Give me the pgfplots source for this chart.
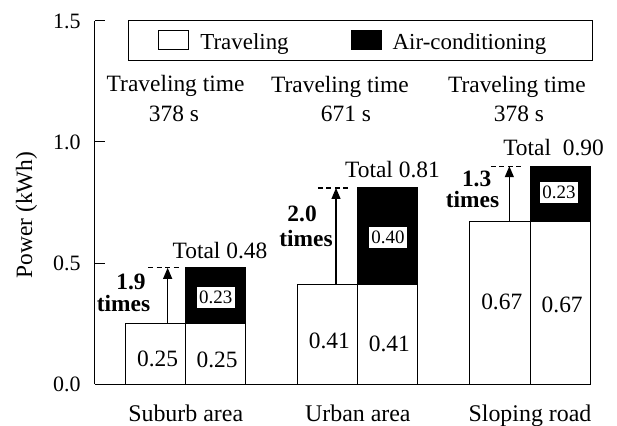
\documentclass[border=0pt]{standalone}
\usepackage{fontspec}
\setmainfont{Liberation Serif}
\usepackage{pgfplots}
\pgfplotsset{compat=1.18}
\usetikzlibrary{arrows.meta}
\newcommand{\fA}{\fontsize{23.5}{27}\selectfont}
\newcommand{\fL}{\fontsize{23}{27}\selectfont}
\newcommand{\fB}{\fontsize{23.5}{27}\selectfont\bfseries}
\newcommand{\fC}{\fontsize{19}{22}\selectfont}
\begin{document}
\begin{tikzpicture}
\useasboundingbox (-95bp,-42bp) rectangle (522bp,384bp);
\begin{axis}[
  at={(0,0)}, anchor=south west,
  scale only axis, width=495bp, height=363bp,
  xmin=-0.527, xmax=2.3485, ymin=0, ymax=1.5,
  clip=false,
  axis x line=bottom, axis y line=left,
  axis line style={-, line width=1bp},
  ytick={0,0.5,1,1.5},
  tick align=inside, major tick length=10bp,
  tick style={black, line width=1bp},
  xtick style={draw=none},
  yticklabel style={xshift=-11bp, font=\fontsize{22}{26}\selectfont, /pgf/number format/fixed, /pgf/number format/fixed zerofill, /pgf/number format/precision=1, /pgf/number format/assume math mode=true},
  xtick={0,1,2}, xticklabels={Suburb area, Urban area, Sloping road},
  xticklabel style={yshift=-7bp, font=\fontsize{24}{28}\selectfont},
  ylabel={Power (kWh)},
  every axis y label/.style={at={(rel axis cs:0,0.4656)}, xshift=-68.5bp, rotate=90, anchor=center, font=\fA},
  ybar, bar width=0.3488, bar shift=0,
  mylegend/.style={legend image code/.code={\draw[##1] (0bp,-7.75bp) rectangle (30bp,11.25bp);}},
  legend columns=2,
  legend cell align=left,
  legend style={
    at={(rel axis cs:0.0667,1.0028)}, anchor=north west,
    draw=black, line width=0.8bp,
    inner xsep=30bp, inner ysep=10bp,
    font=\fL,
    nodes={inner sep=0bp},
    /tikz/every odd column/.append style={column sep=11bp},
    /tikz/every even column/.append style={column sep=62bp},
  },
]
% Air-conditioning on top of traveling (right bar of each pair)
\addplot[fill=black, draw=black, line width=1bp, forget plot] table[x=x, y expr=\thisrow{trav}+\thisrow{ac}] {
x      trav ac
0.1744 0.25 0.23
1.1744 0.41 0.40
2.1744 0.67 0.23
};
% Traveling
\addplot[fill=white, draw=black, line width=1bp, forget plot] coordinates {
  (-0.1744,0.25) (0.1744,0.25) (0.8256,0.41) (1.1744,0.41) (1.8256,0.67) (2.1744,0.67)};
\addlegendimage{fill=white, draw=black, line width=1bp, mylegend}
\addlegendentry{Traveling}
\addlegendimage{fill=black, draw=black, line width=1bp, mylegend}
\addlegendentry{\makebox[170bp][l]{Air-conditioning}}

% traveling time
\node[anchor=base, font=\fA] at (axis cs:-0.059,1.208) {Traveling time};
\node[anchor=base, font=\fA] at (axis cs:-0.068,1.084) {378 s};
\node[anchor=base, font=\fA] at (axis cs:0.896,1.205) {Traveling time};
\node[anchor=base, font=\fA] at (axis cs:0.931,1.084) {671 s};
\node[anchor=base, font=\fA] at (axis cs:1.924,1.206) {Traveling time};
\node[anchor=base, font=\fA] at (axis cs:1.936,1.084) {378 s};
% totals
\node[anchor=base, font=\fA] at (axis cs:0.199,0.517) {Total 0.48};
\node[anchor=base, font=\fA] at (axis cs:1.201,0.854) {Total 0.81};
\node[anchor=base, font=\fA] at (axis cs:2.137,0.946) {Total\hspace{6bp} 0.90};
% ratios
\node[anchor=base, font=\fB] at (axis cs:-0.318,0.391) {1.9};
\node[anchor=base, font=\fB] at (axis cs:-0.361,0.299) {times};
\node[anchor=base, font=\fB] at (axis cs:0.676,0.671) {2.0};
\node[anchor=base, font=\fB] at (axis cs:0.699,0.570) {times};
\node[anchor=base, font=\fB] at (axis cs:1.690,0.818) {1.3};
\node[anchor=base, font=\fB] at (axis cs:1.666,0.730) {times};
% traveling values
\node[anchor=base, font=\fA] at (axis cs:-0.163,0.0715) {0.25};
\node[anchor=base, font=\fA] at (axis cs:0.182,0.070) {0.25};
\node[anchor=base, font=\fA] at (axis cs:0.834,0.147) {0.41};
\node[anchor=base, font=\fA] at (axis cs:1.183,0.133) {0.41};
\node[anchor=base, font=\fA] at (axis cs:1.836,0.306) {0.67};
\node[anchor=base, font=\fA] at (axis cs:2.187,0.296) {0.67};
% AC values
\node[fill=white, inner xsep=2.5bp, inner ysep=4bp, font=\fC] at (axis cs:0.174,0.357) {0.23};
\node[fill=white, inner xsep=2.5bp, inner ysep=4bp, font=\fC] at (axis cs:1.175,0.605) {0.40};
\node[fill=white, inner xsep=2.5bp, inner ysep=4bp, font=\fC] at (axis cs:2.168,0.791) {0.23};
% arrows
\draw[line width=1.2bp, -{Triangle[width=9bp,length=11bp]}] (axis cs:-0.105,0.25) -- (axis cs:-0.105,0.48);
\draw[line width=1.2bp, dash pattern=on 5bp off 3.5bp] (axis cs:-0.219,0.48) -- (axis cs:-0.033,0.48);
\draw[line width=1.2bp, -{Triangle[width=9bp,length=11bp]}] (axis cs:0.873,0.41) -- (axis cs:0.873,0.81);
\draw[line width=1.2bp, dash pattern=on 5bp off 3.5bp] (axis cs:0.768,0.81) -- (axis cs:0.954,0.81);
\draw[line width=1.2bp, -{Triangle[width=9bp,length=11bp]}] (axis cs:1.880,0.67) -- (axis cs:1.880,0.90);
\draw[line width=1.2bp, dash pattern=on 5bp off 3.5bp] (axis cs:1.773,0.90) -- (axis cs:1.958,0.90);
\end{axis}
\end{tikzpicture}
\end{document}
